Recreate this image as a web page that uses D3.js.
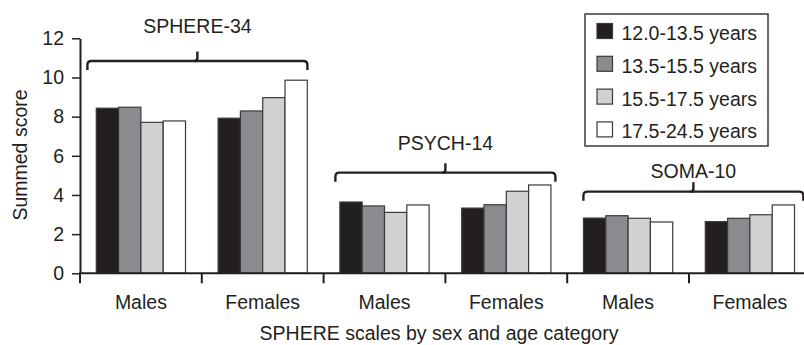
<!DOCTYPE html>
<html>
<head>
<meta charset="utf-8">
<script src="https://cdn.jsdelivr.net/npm/d3@7"></script>
<style>
  body { margin: 0; background: #fff; }
  svg text { font-family: "Liberation Sans", Arial, sans-serif; fill: #231f20; }
</style>
</head>
<body>
<svg id="chart" width="804" height="345"></svg>
<script>
// SPHERE summed scores by scale, sex and age band
const scales = ['SPHERE-34', 'PSYCH-14', 'SOMA-10'];
const sexes = ['Males', 'Females'];
const ageBands = ['12.0-13.5 years', '13.5-15.5 years', '15.5-17.5 years', '17.5-24.5 years'];
const yTicks = [0, 2, 4, 6, 8, 10, 12];

// rows: scale x sex, columns: age band
const sphereMales   = [8.43, 8.48, 7.71, 7.78];
const sphereFemales = [7.92, 8.29, 8.97, 9.86];
const psychMales    = [3.64, 3.44, 3.11, 3.49];
const psychFemales  = [3.33, 3.50, 4.19, 4.51];
const somaMales     = [2.82, 2.94, 2.81, 2.62];
const somaFemales   = [2.64, 2.81, 2.99, 3.49];
const values = [sphereMales, sphereFemales, psychMales, psychFemales, somaMales, somaFemales];

// brace + label heights for each scale, in score units
const braceLevel = [10.84, 5.14, 4.17];
const labelLevel = [12.27, 6.30, 4.85];

const fills = ['#231f20', '#8a8b8f', '#d0d1d3', '#ffffff'];

const svg = d3.select('#chart');
const mLeft = 80, mTop = 38.3, mBottom = 273.3;
const band = 121.8;
const fs = 19.5;

const x0 = d3.scaleBand().domain(d3.range(values.length)).range([mLeft, mLeft + band * values.length]);
const x1 = d3.scaleBand().domain(d3.range(ageBands.length)).range([0, x0.bandwidth()]).paddingOuter(0.73);
const y = d3.scaleLinear().domain([0, 12]).range([mBottom, mTop]);

// bars
const groups = svg.append('g').selectAll('g').data(values).join('g')
  .attr('transform', (d, i) => `translate(${x0(i)},0)`);
groups.selectAll('rect').data(d => d).join('rect')
  .attr('x', (d, j) => x1(j))
  .attr('width', x1.bandwidth())
  .attr('y', d => y(d))
  .attr('height', d => y(0) - y(d))
  .attr('fill', (d, j) => fills[j])
  .attr('stroke', '#3a3a3a').attr('stroke-width', 1.2);

// y axis
const ya = svg.append('g').attr('transform', `translate(${mLeft},0)`)
  .call(d3.axisLeft(y).tickValues(yTicks).tickSize(8).tickPadding(8).tickSizeOuter(0));
ya.select('.domain').attr('stroke', '#231f20').attr('stroke-width', 2);
ya.selectAll('.tick line').attr('stroke', '#231f20').attr('stroke-width', 1.5);
ya.selectAll('.tick text').attr('font-size', fs).attr('fill', '#231f20')
  .attr('font-family', '"Liberation Sans", Arial, sans-serif');

// x axis: baseline, boundary ticks, category labels
const xa = svg.append('g');
xa.append('line').attr('x1', mLeft - 1).attr('x2', x0.range()[1]).attr('y1', mBottom).attr('y2', mBottom)
  .attr('stroke', '#231f20').attr('stroke-width', 2);
xa.selectAll('line.tk').data(d3.range(values.length)).join('line').attr('class', 'tk')
  .attr('x1', i => x0(i)).attr('x2', i => x0(i))
  .attr('y1', mBottom).attr('y2', mBottom + 10)
  .attr('stroke', '#231f20').attr('stroke-width', 2);
xa.selectAll('text').data(values).join('text')
  .attr('x', (d, i) => x0(i) + x0.bandwidth() / 2)
  .attr('y', 309)
  .attr('text-anchor', 'middle').attr('font-size', fs)
  .text((d, i) => sexes[i % 2]);

svg.append('text').attr('x', 439).attr('y', 340).attr('text-anchor', 'middle').attr('font-size', fs)
  .text('SPHERE scales by sex and age category');
svg.append('text').attr('transform', 'translate(27,155) rotate(-90)').attr('text-anchor', 'middle').attr('font-size', fs)
  .text('Summed score');

// braces over each scale
const bg = svg.append('g').attr('fill', 'none').attr('stroke', '#231f20').attr('stroke-width', 2.4);
scales.forEach((s, k) => {
  const cx = x0(2 * k + 1) + (k - 1) * 4.4;
  const yl = y(braceLevel[k]);
  const a = cx - 110, b = cx + 110, r = 4, drop = 9;
  bg.append('path').attr('d',
    `M${a},${yl + drop} L${a},${yl + r} Q${a},${yl} ${a + r},${yl} L${b - r},${yl} Q${b},${yl} ${b},${yl + r} L${b},${yl + drop}`);
  bg.append('path').attr('d', `M${cx - 3},${yl} Q${cx},${yl} ${cx},${yl - 3} L${cx},${yl - 9.5}`);
  svg.append('text').attr('x', cx).attr('y', y(labelLevel[k])).attr('text-anchor', 'middle').attr('font-size', fs).text(s);
});

// legend
const lg = svg.append('g').attr('transform', 'translate(585,14)');
lg.append('rect').attr('width', 183).attr('height', 132).attr('fill', '#fff').attr('stroke', '#3a3a3a').attr('stroke-width', 1.5);
const items = lg.selectAll('g.it').data(ageBands).join('g').attr('class', 'it')
  .attr('transform', (d, i) => `translate(0,${i * 32.8})`);
items.append('rect').attr('x', 12).attr('y', 9.5).attr('width', 15.5).attr('height', 15)
  .attr('fill', (d, i) => fills[i]).attr('stroke', '#3a3a3a').attr('stroke-width', 1.2);
items.append('text').attr('x', 36.5).attr('y', 26).attr('font-size', fs).text(d => d);
</script>
</body>
</html>
